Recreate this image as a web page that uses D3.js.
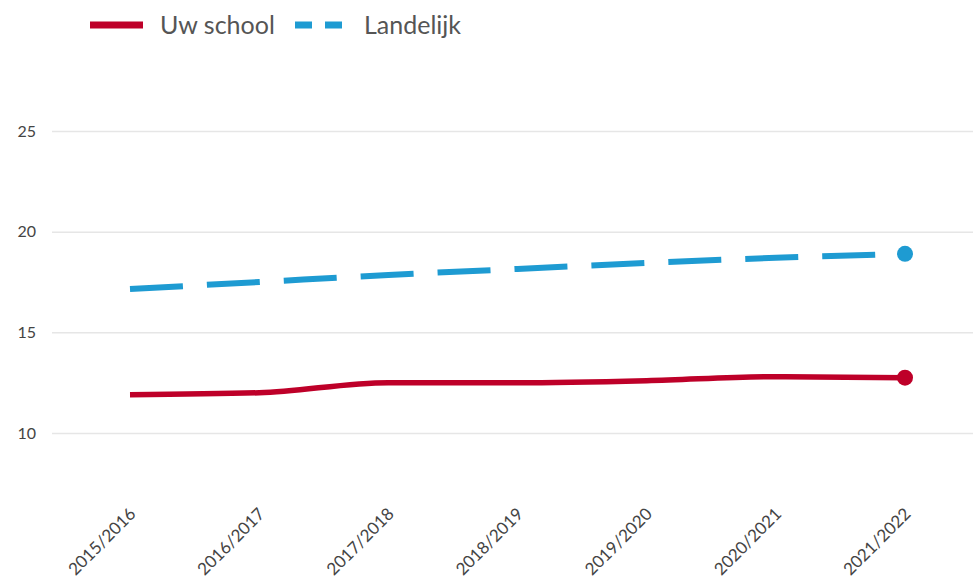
<!DOCTYPE html>
<html>
<head>
<meta charset="utf-8">
<script src="https://cdn.jsdelivr.net/npm/d3@7"></script>
<style>
  body { margin: 0; background: #fff; }
  text { font-family: Lato, "Open Sans", sans-serif; }
</style>
</head>
<body>
<script>
// data
var years = ['2015/2016', '2016/2017', '2017/2018', '2018/2019', '2019/2020', '2020/2021', '2021/2022'];
var school = [11.9, 12.0, 12.5, 12.5, 12.6, 12.8, 12.75];
var landelijk = [17.15, 17.5, 17.85, 18.15, 18.45, 18.7, 18.9];
var yTicks = [10, 15, 20, 25];

var W = 973, H = 587;
var svg = d3.select('body').append('svg').attr('width', W).attr('height', H);

var x = d3.scalePoint().domain(years).range([130, 905]);
var y = d3.scaleLinear().domain([10, 25]).range([433, 131]);

// gridlines + y labels
var yAxis = svg.append('g').attr('transform', 'translate(52,0)')
  .call(d3.axisLeft(y).tickValues(yTicks).tickSize(-(W - 52)).tickPadding(16));
yAxis.select('.domain').remove();
yAxis.selectAll('.tick line').attr('stroke', '#e6e6e6').attr('stroke-width', 1.5);
yAxis.selectAll('.tick text').attr('fill', '#444').attr('font-size', 16);

// x labels
var xAxis = svg.append('g').attr('transform', 'translate(0,433)')
  .call(d3.axisBottom(x).tickSize(0));
xAxis.select('.domain').remove();
xAxis.selectAll('.tick text')
  .attr('fill', '#444').attr('font-size', 17)
  .attr('text-anchor', 'end')
  .attr('dy', 0)
  .attr('transform', 'translate(4,80) rotate(-45)');

var line = d3.line()
  .x(function(d, i) { return x(years[i]); })
  .y(function(d) { return y(d); })
  .curve(d3.curveMonotoneX);

svg.append('path').datum(landelijk)
  .attr('d', line).attr('fill', 'none')
  .attr('stroke', '#1e9bd2').attr('stroke-width', 6)
  .attr('stroke-dasharray', '53,24');
svg.append('circle')
  .attr('cx', x(years[6])).attr('cy', y(landelijk[6])).attr('r', 8)
  .attr('fill', '#1e9bd2');

svg.append('path').datum(school)
  .attr('d', line).attr('fill', 'none')
  .attr('stroke', '#be0029').attr('stroke-width', 5.5);
svg.append('circle')
  .attr('cx', x(years[6])).attr('cy', y(school[6])).attr('r', 8)
  .attr('fill', '#be0029');

// legend
var lg = svg.append('g');
lg.append('line').attr('x1', 90).attr('x2', 143).attr('y1', 25).attr('y2', 25)
  .attr('stroke', '#be0029').attr('stroke-width', 7);
lg.append('text').attr('x', 160).attr('y', 34).attr('font-size', 25)
  .attr('fill', '#555').text('Uw school');
lg.append('line').attr('x1', 295).attr('x2', 346).attr('y1', 25).attr('y2', 25)
  .attr('stroke', '#1e9bd2').attr('stroke-width', 7)
  .attr('stroke-dasharray', '17,13');
lg.append('text').attr('x', 364).attr('y', 34).attr('font-size', 25)
  .attr('fill', '#555').text('Landelijk');
</script>
</body>
</html>
